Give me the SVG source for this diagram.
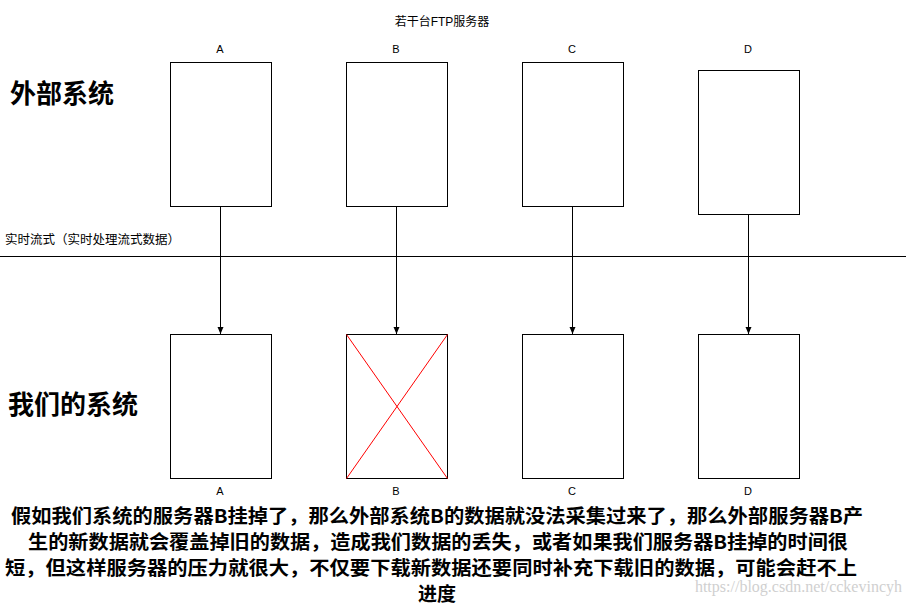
<svg xmlns="http://www.w3.org/2000/svg" width="913" height="609" viewBox="0 0 913 609">
<style>
.b{fill:#fff;stroke:#000;stroke-width:1}
.t{font-family:"Liberation Sans","Noto Sans CJK SC",sans-serif;font-size:11px;fill:#000;text-anchor:middle}
.h{font-family:"Noto Sans CJK SC",sans-serif;font-size:26px;font-weight:bold;fill:#000}
.p{font-family:"Noto Sans CJK SC",sans-serif;font-size:19px;font-weight:bold;fill:#000;text-anchor:middle}
.c{stroke:#000;stroke-width:1;fill:none}
</style>
<defs><marker id="ar" markerWidth="8" markerHeight="8" refX="7" refY="4" orient="auto" markerUnits="userSpaceOnUse"><path d="M0,1 L7,4 L0,7 Z" fill="#000"/></marker></defs>
<rect width="913" height="609" fill="#fff"/>
<text class="t" x="442" y="26" style="font-size:12px">若干台FTP服务器</text>
<text class="h" x="10" y="103">外部系统</text>
<text class="h" x="8" y="414">我们的系统</text>
<text x="5" y="244" style="font-family:'Noto Sans CJK SC',sans-serif;font-size:12.5px">实时流式（实时处理流式数据）</text>
<g id="ext-A"><text class="t" x="220" y="53">A</text><rect class="b" x="170.5" y="62.5" width="101" height="144"/></g>
<g id="ext-B"><text class="t" x="396" y="53">B</text><rect class="b" x="346.5" y="62.5" width="101" height="144"/></g>
<g id="ext-C"><text class="t" x="572" y="53">C</text><rect class="b" x="522.5" y="62.5" width="101" height="144"/></g>
<g id="ext-D"><text class="t" x="748" y="53">D</text><rect class="b" x="698.5" y="70.5" width="101" height="144"/></g>
<g id="our-A"><rect class="b" x="170.5" y="334.5" width="101" height="144"/><text class="t" x="220" y="495">A</text></g>
<g id="our-B"><rect class="b" x="346.5" y="334.5" width="101" height="144"/><path d="M346.5,334.5 L447.5,478.5 M447.5,334.5 L346.5,478.5" stroke="#f00" stroke-width="1"/><text class="t" x="396" y="495">B</text></g>
<g id="our-C"><rect class="b" x="522.5" y="334.5" width="101" height="144"/><text class="t" x="572" y="495">C</text></g>
<g id="our-D"><rect class="b" x="698.5" y="334.5" width="101" height="144"/><text class="t" x="748" y="495">D</text></g>
<g id="connectors">
<line class="c" x1="0" y1="256.5" x2="906" y2="256.5"/>
<line class="c" x1="220.5" y1="206.5" x2="220.5" y2="334" marker-end="url(#ar)"/>
<line class="c" x1="396.5" y1="206.5" x2="396.5" y2="334" marker-end="url(#ar)"/>
<line class="c" x1="572.5" y1="206.5" x2="572.5" y2="334" marker-end="url(#ar)"/>
<line class="c" x1="748.5" y1="214.5" x2="748.5" y2="334" marker-end="url(#ar)"/>
</g>
<text class="p" x="437" y="523" textLength="852" lengthAdjust="spacingAndGlyphs">假如我们系统的服务器B挂掉了，那么外部系统B的数据就没法采集过来了，那么外部服务器B产</text>
<text class="p" x="438" y="549" textLength="820" lengthAdjust="spacingAndGlyphs">生的新数据就会覆盖掉旧的数据，造成我们数据的丢失，或者如果我们服务器B挂掉的时间很</text>
<text class="p" x="431" y="575" textLength="852" lengthAdjust="spacingAndGlyphs">短，但这样服务器的压力就很大，不仅要下载新数据还要同时补充下载旧的数据，可能会赶不上</text>
<text class="p" x="437" y="601">进度</text>
<text x="902" y="592" text-anchor="end" style="font-family:'Liberation Serif',serif;font-size:16px;fill:#d0d0d0">https://blog.csdn.net/cckevincyh</text>
</svg>
